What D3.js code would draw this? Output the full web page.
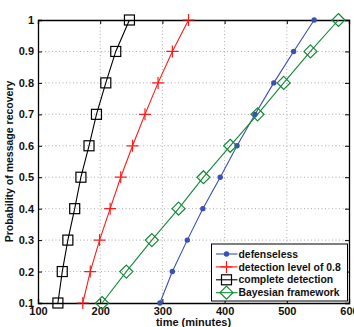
<!DOCTYPE html>
<html>
<head>
<meta charset="utf-8">
<script src="https://cdn.jsdelivr.net/npm/d3@7"></script>
<style>
  body { margin: 0; background: #fff; }
  svg { display: block; font-family: "Liberation Sans", Arial, sans-serif; font-weight: bold; }
</style>
</head>
<body>
<svg id="chart" width="354" height="327"></svg>
<script>
// probability levels shared by all series
const probs = [0.1, 0.2, 0.3, 0.4, 0.5, 0.6, 0.7, 0.8, 0.9, 1.0];
// time (minutes) at which each level is reached
const defenseless = [296, 316, 340, 365, 393, 420, 449, 479, 511, 544];
const detection08 = [172, 184, 199, 216, 233, 252, 272, 293, 316, 342];
const complete = [132, 139, 148, 159, 169, 182, 194, 209, 225, 247];
const bayesian = [203, 242, 283, 326, 366, 409, 453, 495, 538, 583];
const xTicks = [100, 200, 300, 400, 500, 600];
const yTicks = [0.1, 0.2, 0.3, 0.4, 0.5, 0.6, 0.7, 0.8, 0.9, 1];

const series = [
  { name: 'defenseless', xs: defenseless, color: '#3a50b4', marker: 'dot' },
  { name: 'detection level of 0.8', xs: detection08, color: '#ff1a1a', marker: 'plus' },
  { name: 'complete detection', xs: complete, color: '#000', marker: 'square' },
  { name: 'Bayesian framework', xs: bayesian, color: '#138a36', marker: 'diamond' },
];

const m = { left: 38, right: 349, top: 20, bottom: 303 };
const svg = d3.select('#chart');

const x = d3.scaleLinear().domain([100, 600]).range([m.left, m.right]);
const y = d3.scaleLinear().domain([0.1, 1]).range([m.bottom, m.top]);

// dotted grid
const grid = svg.append('g').attr('stroke', '#999').attr('stroke-width', 0.8)
  .attr('stroke-dasharray', '1,2.5');
grid.selectAll('.gx').data(xTicks.slice(1, -1)).enter().append('line')
  .attr('x1', d => x(d)).attr('x2', d => x(d)).attr('y1', m.top).attr('y2', m.bottom);
grid.selectAll('.gy').data(yTicks.slice(1, -1)).enter().append('line')
  .attr('y1', d => y(d)).attr('y2', d => y(d)).attr('x1', m.left).attr('x2', m.right);

// axes with inward ticks
const fmt = d => d3.format('')(d);
svg.append('g').attr('transform', `translate(0,${m.bottom})`)
  .call(d3.axisBottom(x).tickValues(xTicks).tickSize(-4).tickPadding(4).tickFormat(fmt));
svg.append('g').attr('transform', `translate(${m.left},0)`)
  .call(d3.axisLeft(y).tickValues(yTicks).tickSize(-4).tickPadding(4).tickFormat(fmt));
svg.append('g').attr('transform', `translate(0,${m.top})`)
  .call(d3.axisTop(x).tickValues(xTicks).tickSize(-4).tickFormat(''));
svg.append('g').attr('transform', `translate(${m.right},0)`)
  .call(d3.axisRight(y).tickValues(yTicks).tickSize(-4).tickFormat(''));

svg.selectAll('.domain').attr('stroke', '#000').attr('stroke-width', 1.3);
svg.selectAll('.tick line').attr('stroke', '#000');
svg.selectAll('.tick text').attr('font-size', 11).attr('font-weight', 'bold')
  .attr('font-family', '"Liberation Sans", Arial, sans-serif').attr('fill', '#111');

// markers
function drawMarker(g, type, color) {
  if (type === 'dot') {
    g.append('circle').attr('r', 2.7).attr('fill', color);
  } else if (type === 'plus') {
    g.append('path').attr('d', 'M-6,0H6M0,-6V6').attr('stroke', color).attr('stroke-width', 1.2);
  } else if (type === 'square') {
    g.append('rect').attr('x', -5).attr('y', -5).attr('width', 10).attr('height', 10)
      .attr('fill', 'none').attr('stroke', color).attr('stroke-width', 1.2);
  } else if (type === 'diamond') {
    g.append('path').attr('d', 'M0,-6.5L6.5,0L0,6.5L-6.5,0Z')
      .attr('fill', 'none').attr('stroke', color).attr('stroke-width', 1.2);
  }
}

const line = d3.line().x(d => x(d[0])).y(d => y(d[1]));
series.forEach(s => {
  const pts = s.xs.map((v, i) => [v, probs[i]]);
  svg.append('path').datum(pts).attr('d', line)
    .attr('fill', 'none').attr('stroke', s.color).attr('stroke-width', 1.1);
  pts.forEach(p => {
    const g = svg.append('g').attr('transform', `translate(${x(p[0])},${y(p[1])})`);
    drawMarker(g, s.marker, s.color);
  });
});

// legend
const lg = svg.append('g').attr('transform', 'translate(211.5,244)');
lg.append('rect').attr('width', 136).attr('height', 57)
  .attr('fill', '#fff').attr('stroke', '#000').attr('stroke-width', 1);
series.forEach((s, i) => {
  const yy = 10 + i * 12.9;
  lg.append('line').attr('x1', 4.5).attr('x2', 26).attr('y1', yy).attr('y2', yy)
    .attr('stroke', s.color).attr('stroke-width', 1.1);
  drawMarker(lg.append('g').attr('transform', `translate(15,${yy})`), s.marker, s.color);
  lg.append('text').attr('x', 27).attr('y', yy).attr('dy', '0.35em')
    .attr('font-size', 10.4).attr('fill', '#111').text(s.name);
});

// axis titles
svg.append('text').attr('x', (m.left + m.right) / 2).attr('y', 326)
  .attr('text-anchor', 'middle').attr('font-size', 11).attr('fill', '#111').text('time (minutes)');
svg.append('text').attr('transform', `translate(13,${(m.top + m.bottom) / 2}) rotate(-90)`)
  .attr('text-anchor', 'middle').attr('font-size', 10.5).attr('fill', '#111')
  .text('Probability of message recovery');
</script>
</body>
</html>
